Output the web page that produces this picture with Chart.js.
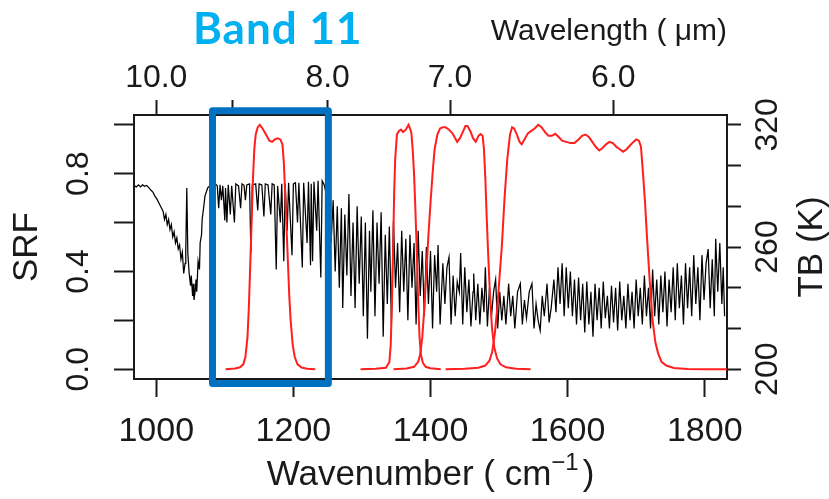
<!DOCTYPE html>
<html><head><meta charset="utf-8">
<script src="https://cdn.jsdelivr.net/npm/chart.js@4.4.1/dist/chart.umd.min.js"></script>
<style>html,body{margin:0;padding:0;background:#fff;}canvas{display:block;}</style>
</head><body>
<canvas id="c" width="829" height="499"></canvas>
<script>
// ---------- tick labels ----------
const wavenumberTicks = [1000, 1200, 1400, 1600, 1800];
const wavelengthTicks = [10, 9, 8, 7, 6];            // micrometres
const wavelengthLabels = ['10.0', '', '8.0', '7.0', '6.0'];
const srfTicks = [0, 0.2, 0.4, 0.6, 0.8, 1.0];
const srfLabels = ['0.0', '', '0.4', '', '0.8', ''];
const tbTicks = [200, 220, 240, 260, 280, 300, 320];
const tbLabels = ['200', '', '', '260', '', '', '320'];

// ---------- titles ----------
const bandLabel = 'Band 11';
const topTitle = 'Wavelength ( \u03bcm)';
const leftTitle = 'SRF';
const rightTitle = 'TB (K)';
const bottomTitle = ['Wavenumber ( cm', '\u22121', ')'];

// ---------- highlighted band (wavenumber) ----------
const bandBoxWn = [1082, 1251];
const bandBoxSrf = [-0.058, 1.057];

// ---------- spectral response functions (red) ----------
const band11Wn  = [1101,1115,1122,1127,1130,1133,1135,1137,1139,1141,1143,1145,1148,1151,1155,1160,1165,1169,1173,1177,1181,1184,1186,1188,1190,1192,1194,1196,1199,1202,1206,1212,1220,1232];
const band11Srf = [0,0.003,0.008,0.02,0.05,0.13,0.25,0.42,0.6,0.78,0.9,0.96,0.99,1.0,0.985,0.96,0.935,0.93,0.94,0.945,0.94,0.92,0.85,0.72,0.58,0.44,0.3,0.2,0.1,0.05,0.02,0.007,0.002,0];

const band12Wn  = [1298,1320,1335,1340,1342,1344,1345.5,1347,1348.5,1351,1354,1357,1360,1364,1366,1368,1370,1372,1374,1376,1378,1380,1382,1384,1386,1389,1393,1400,1415];
const band12Srf = [0,0.002,0.006,0.03,0.1,0.3,0.5,0.72,0.86,0.96,0.975,0.98,0.97,0.98,0.99,1.0,0.985,0.97,0.9,0.8,0.65,0.48,0.28,0.13,0.06,0.025,0.01,0.004,0];

const band13Wn  = [1346,1365,1376,1382,1385,1388,1391,1394,1397,1400,1403,1406,1410,1414,1418,1422,1427,1432,1436,1439,1443,1447,1451,1454,1458,1462,1466,1470,1473,1476,1478,1480,1482,1484,1486,1488,1490,1493,1497,1502,1510,1525,1546];
const band13Srf = [0,0.003,0.01,0.03,0.06,0.13,0.25,0.4,0.55,0.68,0.8,0.9,0.96,0.985,0.99,0.99,0.98,0.965,0.945,0.93,0.945,0.97,0.995,0.995,0.975,0.945,0.93,0.955,0.962,0.955,0.9,0.78,0.62,0.48,0.35,0.24,0.16,0.09,0.045,0.02,0.008,0.002,0];

const band14Wn  = [1422,1450,1470,1480,1486,1490,1494,1497,1500,1504,1508,1512,1516,1519,1522,1526,1530,1533,1537,1542,1547,1552,1557,1562,1567,1572,1577,1582,1587,1592,1598,1604,1610,1616,1621,1626,1631,1636,1641,1646,1651,1656,1661,1666,1671,1676,1681,1686,1691,1696,1700,1704,1707,1710,1713,1716,1720,1724,1728,1732,1737,1744,1755,1775,1800,1834];
const band14Srf = [0,0.002,0.006,0.015,0.035,0.07,0.15,0.24,0.35,0.5,0.7,0.86,0.96,0.99,0.985,0.96,0.93,0.92,0.94,0.965,0.975,0.985,1.0,0.99,0.97,0.955,0.955,0.963,0.95,0.935,0.93,0.925,0.925,0.94,0.955,0.96,0.95,0.93,0.91,0.895,0.905,0.92,0.93,0.925,0.91,0.9,0.89,0.9,0.915,0.93,0.94,0.935,0.91,0.8,0.68,0.53,0.35,0.2,0.11,0.065,0.03,0.015,0.005,0.001,0,0];

// ---------- brightness temperature spectrum (black), [wavenumber, TB K] ----------
const spectrum = [
[968,290],[971,289.5],[974,290.5],[977,289.5],[980,290.5],[983,289.8],[986,290.2],[988,289.5],[992,288],[995,287],[998,285],[1001,283.5],[1004,281.5],[1007,279.5],
[1010,277.5],[1012,273.5],[1014,276],[1016,271],[1018,273.5],[1020,268.5],[1022,271],[1024,265],[1026,267.5],[1028,262],[1030,264.5],[1032,259],[1034,261],[1036,254],[1038,257.5],
[1040,247],[1042,252],[1043,258],[1044.5,289],[1046,257],[1048,247],[1050,241],[1051,246],[1053,236],[1054,242],[1055,234],[1057,239],[1058,244],[1059,238],[1061,253],[1063,249],
[1064,262],[1066,266],[1067,274],[1069,279],[1071,285],[1073,287],[1075,289],[1078,290],[1081,290.5],
[1084,290],[1087,290.8],[1089,290],[1091,279],[1093,290.5],[1095,283],[1097,290],[1100,273],[1101,289],[1103,272],[1105,290.5],[1108,276],[1110,290],[1114,272],[1116,291],[1120,290],
[1123,279],[1125,291],[1128,290.3],[1130,283],[1132,290.5],[1136,291],[1138,257],[1140,290.5],[1145,291],[1148,278],[1150,291],[1154,290.5],[1157,275],[1159,291],[1163,290.5],[1167,276],
[1169,291],[1172,290.5],[1175,249],[1177,290],[1181,272],[1183,291],[1186,253],[1188,291],[1191,268],[1193,291.5],[1198,256],[1200,291],[1203,291.5],[1206,272],[1208,291.5],[1213,250],
[1215,291.5],[1220,262],[1222,292],[1225,251],[1226,291],[1228,253],[1230,292],[1234,268],[1236,292.5],[1240,245],[1242,292.5],[1245,290.5],
[1248,286],[1250,270],[1252,287],[1255,262],[1258,283],[1261,248],[1264,280],[1267,240],[1270,279],[1272,230],[1275,276],[1278,246],[1281,286],[1284,236],[1287,272],[1290,230],
[1293,280],[1296,242],[1299,275],[1302,226],[1305,272],[1308,215],[1311,268],[1313,238],[1316,278],[1319,226],[1322,272],[1325,242],[1328,277],[1331,216],[1334,266],[1337,232],
[1340,270],[1343,222],[1346,273],[1349,240],[1352,262],[1355,228],[1358,268],[1361,238],[1364,264],[1367,224],[1370,266],[1373,240],[1376,262],[1379,222],[1382,268],[1385,236],
[1388,258],[1391,226],[1394,260],[1397,232],[1400,258],[1403,220],[1406,256],[1409,238],[1411,261],[1414,222],
[1418,252],[1421,232],[1424,250],[1427,255],[1430,222],[1433,246],[1436,226],[1439,243],[1442,238],[1444,257],[1447,222],[1450,250],[1453,228],[1456,244],[1459,221],[1462,238],
[1463,247],[1466,224],[1469,242],[1472,222],[1475,240],[1478,228],[1480,250],[1483,221],[1486,240],[1489,226],[1492,238],[1495,244],[1498,220],
[1501,238],[1504,224],[1507,236],[1510,222],[1514,242],[1517,226],[1520,236],[1523,220],[1527,238],[1531,242],[1534,222],[1537,234],[1540,225],[1544,238],[1548,242],[1551,220],
[1554,232],[1557,224],[1560,219],[1563,236],[1566,226],[1570,242],[1573,223],[1576,230],
[1580,244],[1583,228],[1586,250],[1589,232],[1592,252],[1595,226],[1598,250],[1601,230],[1604,248],[1607,226],[1610,244],
[1613,222],[1616,245],[1619,224],[1622,242],[1625,218],[1628,243],[1631,222],[1634,238],[1637,216],[1640,242],[1643,224],[1646,240],[1649,220],[1652,243],[1655,225],[1658,236],
[1661,220],[1664,241],[1667,223],[1670,240],[1673,219],[1676,243],[1679,224],[1682,236],[1685,220],[1688,242],[1691,224],[1694,238],[1697,220],[1700,244],[1703,226],[1706,240],
[1709,222],[1712,246],[1715,226],[1718,240],[1721,220],[1724,249],[1727,226],[1730,244],[1733,222],[1736,246],[1739,228],[1742,248],[1745,221],[1748,244],[1751,228],[1754,250],
[1757,224],[1760,252],[1763,230],[1766,246],[1769,222],[1772,252],[1775,230],[1778,250],[1781,226],[1784,256],[1787,232],[1790,250],[1793,224],[1796,256],[1799,234],[1802,252],
[1805,259],[1808,230],[1811,254],[1814,226],[1816,264],[1819,238],[1822,262],[1825,232],[1827,250],[1829,226]
];

// ---------- build ----------
const FONT = "'Liberation Sans', Arial, Helvetica, sans-serif";
const INK = '#1a1a1a';
Chart.defaults.font.family = FONT;
Chart.defaults.color = INK;

function xy(xs, ys) { return xs.map((v, i) => ({x: v, y: ys[i]})); }
function setTicks(values) { return s => { s.ticks = values.map(v => ({value: v})); }; }
const redLine = {borderColor: '#ff1f1f', borderWidth: 2, pointRadius: 0, tension: 0, fill: false, xAxisID: 'x', yAxisID: 'y', order: 1};

const overlay = {
  id: 'overlay',
  afterDraw(chart) {
    const {ctx, scales: {x, y}} = chart;
    const area = chart.chartArea;
    ctx.save();
    // right-hand title (reads upward)
    ctx.fillStyle = INK;
    ctx.font = '35px ' + FONT;
    ctx.textAlign = 'center';
    ctx.textBaseline = 'middle';
    ctx.translate(812, (area.top + area.bottom) / 2);
    ctx.rotate(-Math.PI / 2);
    ctx.fillText(rightTitle, 0, 0);
    ctx.restore();

    // bottom title with superscript
    ctx.save();
    ctx.fillStyle = INK;
    ctx.textBaseline = 'alphabetic';
    ctx.textAlign = 'left';
    const big = '35px ' + FONT, small = '24px ' + FONT;
    ctx.font = big; const w0 = ctx.measureText(bottomTitle[0]).width; const w2 = ctx.measureText(bottomTitle[2]).width;
    ctx.font = small; const w1 = ctx.measureText(bottomTitle[1]).width;
    const gap = 4;
    const total = w0 + w1 + gap + w2;
    let tx = (area.left + area.right) / 2 - total / 2;
    const base = 485;
    ctx.font = big; ctx.fillText(bottomTitle[0], tx, base); tx += w0;
    ctx.font = small; ctx.fillText(bottomTitle[1], tx, base - 15); tx += w1 + gap;
    ctx.font = big; ctx.fillText(bottomTitle[2], tx, base);
    ctx.restore();

    // highlighted band box
    ctx.save();
    const x0 = x.getPixelForValue(bandBoxWn[0]), x1 = x.getPixelForValue(bandBoxWn[1]);
    const yT = y.getPixelForValue(bandBoxSrf[1]), yB = y.getPixelForValue(bandBoxSrf[0]);
    ctx.strokeStyle = '#0070c0';
    ctx.lineWidth = 7;
    ctx.lineJoin = 'round';
    ctx.strokeRect(x0, yT, x1 - x0, yB - yT);
    // band label
    ctx.fillStyle = '#00b0f0';
    ctx.font = 'bold 44px Lato, ' + FONT;
    if ('letterSpacing' in ctx) ctx.letterSpacing = '1px';
    ctx.textAlign = 'left';
    ctx.textBaseline = 'alphabetic';
    ctx.fillText(bandLabel, 193, 44);
    ctx.restore();
  }
};

const axisBorder = {display: true, color: INK, width: 2};

new Chart(document.getElementById('c'), {
  type: 'line',
  data: {
    datasets: [
      Object.assign({label: 'Band 11 SRF', data: xy(band11Wn, band11Srf)}, redLine),
      Object.assign({label: 'Band 12 SRF', data: xy(band12Wn, band12Srf)}, redLine),
      Object.assign({label: 'Band 13 SRF', data: xy(band13Wn, band13Srf)}, redLine),
      Object.assign({label: 'Band 14 SRF', data: xy(band14Wn, band14Srf)}, redLine),
      {label: 'TB', data: spectrum.map(p => ({x: p[0], y: p[1]})), xAxisID: 'x', yAxisID: 'y2',
       borderColor: '#000', borderWidth: 1.25, pointRadius: 0, tension: 0, fill: false, order: 2}
    ]
  },
  options: {
    responsive: false,
    animation: false,
    devicePixelRatio: 1,
    layout: {padding: 0},
    plugins: {legend: {display: false}, tooltip: {enabled: false}},
    scales: {
      x: {
        type: 'linear', position: 'bottom', min: 967.5, max: 1832.5,
        afterBuildTicks: setTicks(wavenumberTicks),
        afterFit: s => { s.height = 120; },
        border: axisBorder,
        grid: {drawOnChartArea: false, tickLength: 18, tickWidth: 2, tickColor: INK},
        ticks: {autoSkip: false, maxRotation: 0, minRotation: 0, padding: 14, font: {size: 34}, color: INK,
                callback: v => String(v)}
      },
      x2: {
        type: 'linear', position: 'top', min: 967.5, max: 1832.5,
        afterBuildTicks: setTicks(wavelengthTicks.map(l => 10000 / l)),
        afterFit: s => { s.height = 115; },
        border: axisBorder,
        grid: {drawOnChartArea: false, tickLength: 15, tickWidth: 2, tickColor: INK},
        ticks: {autoSkip: false, maxRotation: 0, minRotation: 0, padding: 3, font: {size: 32}, color: INK,
                callback: (v, i) => wavelengthLabels[i]},
        title: {display: true, text: topTitle, align: 'end', font: {size: 30}, color: INK, padding: {top: 14, bottom: 0}}
      },
      y: {
        type: 'linear', position: 'left', min: -0.04, max: 1.04,
        afterBuildTicks: setTicks(srfTicks),
        afterFit: s => { s.width = 134; },
        border: axisBorder,
        grid: {drawOnChartArea: false, tickLength: 20, tickWidth: 2, tickColor: INK},
        ticks: {autoSkip: false, minRotation: 90, maxRotation: 90, crossAlign: 'center', padding: 13,
                font: {size: 32}, color: INK, callback: (v, i) => srfLabels[i]},
        title: {display: true, text: leftTitle, font: {size: 35}, color: INK, padding: {top: 6, bottom: 0}}
      },
      y2: {
        type: 'linear', position: 'right', min: 195.2, max: 324.8,
        afterBuildTicks: setTicks(tbTicks),
        afterFit: s => { s.width = 102; },
        border: axisBorder,
        grid: {drawOnChartArea: false, tickLength: 14, tickWidth: 2, tickColor: INK},
        ticks: {autoSkip: false, minRotation: 90, maxRotation: 90, crossAlign: 'center', padding: 0,
                font: {size: 32}, color: INK, callback: (v, i) => tbLabels[i]}
      }
    }
  },
  plugins: [overlay]
});
</script>
</body></html>
